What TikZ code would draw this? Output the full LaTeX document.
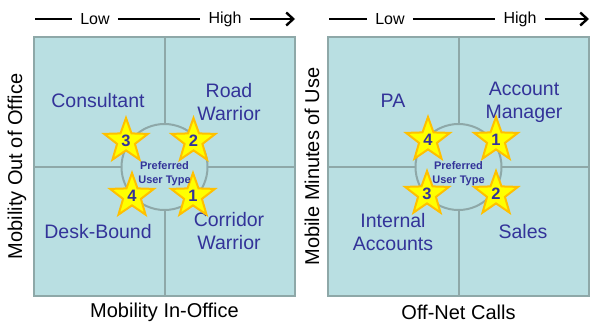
\documentclass[tikz,border=0pt]{standalone}
\usepackage{fontspec}
\setmainfont{Liberation Sans}
\usetikzlibrary{shapes.geometric,arrows.meta}
\definecolor{panelfill}{HTML}{B9DFE2}
\definecolor{panelline}{HTML}{8EA8A8}
\definecolor{labelblue}{HTML}{333399}
\definecolor{staryellow}{HTML}{FFFF00}
\definecolor{starorange}{HTML}{FFC000}
\tikzset{
  panel/.style={draw=panelline, fill=panelfill, line width=2pt},
  gridline/.style={draw=panelline, line width=2pt},
  quadlabel/.style={text=labelblue, font=\fontsize{19.5}{23}\selectfont, align=center, inner sep=0pt},
  axislabel/.style={text=black, font=\fontsize{20}{22}\selectfont, inner sep=0pt},
  scalelabel/.style={text=black, font=\fontsize{16}{18}\selectfont, inner sep=8pt},
  scaleline/.style={line width=2.4pt, black},
  centerlabel/.style={text=labelblue, font=\bfseries\fontsize{11}{14}\selectfont, align=center, inner sep=0pt},
  starmark/.style={star, star points=5, star point ratio=2.45, minimum size=46pt, inner sep=0pt,
    fill=staryellow, draw=starorange, line width=2pt, text=labelblue,
    font=\bfseries\fontsize{16.5}{16.5}\selectfont},
}
\begin{document}
\begin{tikzpicture}[x=1pt,y=-1pt]
\useasboundingbox (0,0) rectangle (612,322);
% ---------- left panel ----------
\draw[panel] (34,37) rectangle (295,296);
\coordinate (Lc) at (164.5,167);
\draw[gridline] (164.5,37) -- (164.5,296);
\draw[gridline] (34,166.5) -- (295,166.5);
\draw[panel] (Lc) circle[radius=43];
\node[quadlabel] (cons) at (98,101) {Consultant};
\node[quadlabel] (road) at (229,102.5) {Road\\Warrior};
\node[quadlabel] (desk) at (98,232) {Desk-Bound};
\node[quadlabel] (corr) at (229,231.5) {Corridor\\Warrior};
\node[starmark] (L3) at (126,141) {3};
\node[starmark] (L2) at (193.5,141) {2};
\node[starmark] (L4) at (132,196) {4};
\node[starmark] (L1) at (193,196) {1};
\node[centerlabel] (Lpref) at (164.5,174) {Preferred\\User Type};
\node[scalelabel] (Llow) at (95,19) {Low};
\node[scalelabel] (Lhigh) at (225,19) {High};
\coordinate (Lstart) at (35,19);
\coordinate (Lend) at (295,19);
\draw[scaleline] (Lstart) -- (Llow.west);
\draw[scaleline] (Llow.east) -- (Lhigh.west);
\draw[scaleline, -{Straight Barb[length=7pt,width=13pt,line width=2.4pt]}] (Lhigh.east) -- (Lend);
\node[axislabel, rotate=90] (Lylab) at (17,166.5) {Mobility Out of Office};
\node[axislabel] (Lxlab) at (164.5,312) {Mobility In-Office};
% ---------- right panel ----------
\draw[panel] (328,37) rectangle (589,296);
\coordinate (Rc) at (458.5,167);
\draw[gridline] (458.5,37) -- (458.5,296);
\draw[gridline] (328,166.5) -- (589,166.5);
\draw[panel] (Rc) circle[radius=43];
\node[quadlabel] (pa) at (393,101) {PA};
\node[quadlabel] (acct) at (524,102.5) {Account\\Manager};
\node[quadlabel] (intl) at (393,232) {Internal\\Accounts};
\node[quadlabel] (sales) at (523,232) {Sales};
\node[starmark] (R4) at (428,140) {4};
\node[starmark] (R1) at (496,140) {1};
\node[starmark] (R3) at (427,194) {3};
\node[starmark] (R2) at (496,194) {2};
\node[centerlabel] (Rpref) at (458.5,174) {Preferred\\User Type};
\node[scalelabel] (Rlow) at (390,19) {Low};
\node[scalelabel] (Rhigh) at (520,19) {High};
\coordinate (Rstart) at (329,19);
\coordinate (Rend) at (589,19);
\draw[scaleline] (Rstart) -- (Rlow.west);
\draw[scaleline] (Rlow.east) -- (Rhigh.west);
\draw[scaleline, -{Straight Barb[length=7pt,width=13pt,line width=2.4pt]}] (Rhigh.east) -- (Rend);
\node[axislabel, rotate=90] (Rylab) at (312,166.5) {Mobile Minutes of Use};
\node[axislabel] (Rxlab) at (458.5,312) {Off-Net Calls};
\end{tikzpicture}
\end{document}
